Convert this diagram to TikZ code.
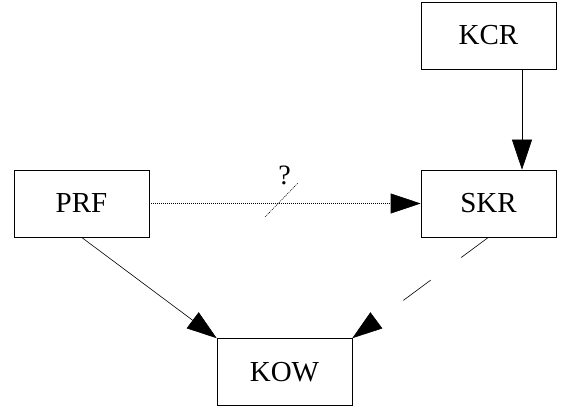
\documentclass[tikz,border=0pt]{standalone}
\usepackage{fontspec}
\setmainfont{Liberation Serif}
\usetikzlibrary{arrows.meta}
\tikzset{
  box/.style={draw, line width=0.6pt, rectangle, minimum width=135pt, minimum height=67pt,
    inner sep=0pt, font=\fontsize{29}{34}\selectfont},
  link/.style={line width=0.6pt, -{Triangle[length=30pt,width=20pt]}},
  dotline/.style={dash pattern=on 1pt off 1pt},
  longdash/.style={dash pattern=on 34pt off 38pt}
}
\begin{document}
\begin{tikzpicture}[x=1pt,y=-1pt]
  \useasboundingbox (0,0) rectangle (571,412);
  % boxes
  \node[box] (KCR) at (488.5,35.5) {KCR};
  \node[box] (SKR) at (488.5,203.5) {SKR};
  \node[box] (PRF) at (81.5,203.5) {PRF};
  \node[box] (KOW) at (284.5,372) {KOW};
  % helper points
  \coordinate (kx) at (522,0);
  \coordinate (cutA) at (265,217);
  \coordinate (cutB) at (298,183);
  % connectors
  \draw[link] (KCR.south -| kx) -- (SKR.north -| kx);
  \draw[link, dotline] (PRF.east) -- (SKR.west);
  \draw[line width=0.6pt, dotline] (cutA) -- (cutB);
  \node[font=\fontsize{28}{32}\selectfont] (q) at (284.5,175) {?};
  \draw[link] (PRF.south) -- (KOW.north west);
  \draw[link, longdash] (SKR.south) -- (KOW.north east);
\end{tikzpicture}
\end{document}
